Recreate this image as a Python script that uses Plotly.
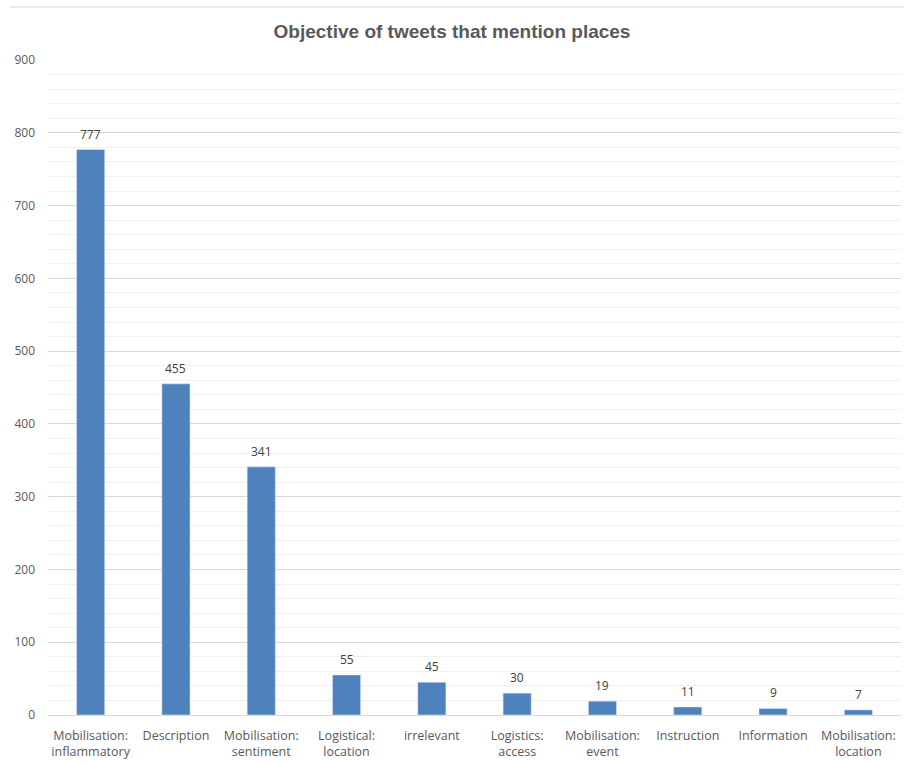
import plotly.graph_objects as go

categories = [
    'Mobilisation:<br>inflammatory', 'Description', 'Mobilisation:<br>sentiment',
    'Logistical:<br>location', 'irrelevant', 'Logistics:<br>access',
    'Mobilisation:<br>event', 'Instruction', 'Information', 'Mobilisation:<br>location'
]
counts = [777, 455, 341, 55, 45, 30, 19, 11, 9, 7]

fig = go.Figure(go.Bar(
    x=categories, y=counts,
    marker=dict(color='#4f81bd'),
))

# value labels above each bar
for cat, n in zip(categories, counts):
    fig.add_annotation(x=cat, y=n, text=str(n), showarrow=False,
                       yanchor='bottom', yshift=5,
                       font=dict(size=12, color='#404040', family='Open Sans'))

fig.update_layout(
    title=dict(text='<b>Objective of tweets that mention places</b>',
               x=0.5, xanchor='center', yref='container', y=0.959, yanchor='middle',
               font=dict(size=19, color='#595959', family='Liberation Sans, Arial')),
    width=904, height=764,
    margin=dict(l=48, r=3, t=60, b=49, autoexpand=False),
    plot_bgcolor='white', paper_bgcolor='white',
    bargap=0.67,
    showlegend=False,
    font=dict(family='Open Sans', size=12, color='#595959'),
)

fig.update_yaxes(
    range=[0, 900], dtick=100, showgrid=True,
    gridcolor='#d9d9d9', gridwidth=1,
    minor=dict(dtick=20, showgrid=True, gridcolor='#f0f0f0', gridwidth=1),
    zeroline=False, ticks='', ticklabelstandoff=12, automargin=False,
    tickfont=dict(size=12, color='#595959'),
)
fig.update_xaxes(
    showline=True, linecolor='#d9d9d9', ticks='', automargin=False,
    tickfont=dict(size=12.5, color='#595959'),
    ticklabelstandoff=9, tickangle=0,
)

# light border across the top of the chart area
fig.add_shape(type='line', xref='paper', yref='paper',
              x0=-0.045, x1=1.01, y0=1.081, y1=1.081,
              line=dict(color='#d9d9d9', width=1))

# drop the browser's default 8px body margin so the figure sits at the page corner
fig.write_html("out.html", config={'displayModeBar': False},
               post_script="document.body.style.margin='0';")
